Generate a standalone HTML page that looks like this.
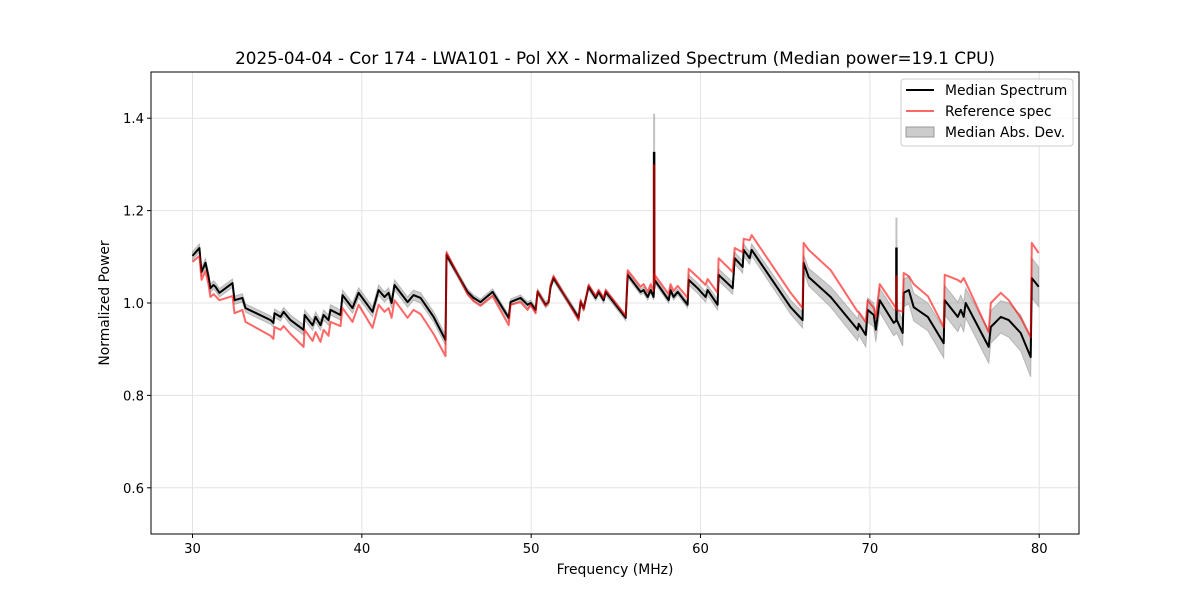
<!DOCTYPE html>
<html><head><meta charset="utf-8"><style>
body{margin:0;background:#fff;}
svg{display:block;font-family:"DejaVu Sans","Liberation Sans",sans-serif;}
</style></head><body>
<svg id="chart" width="1200" height="600" viewBox="0 0 1200 600">
<rect width="1200" height="600" fill="#fff"/>
<text x="615" y="64" text-anchor="middle" font-size="16.8" fill="#000">2025-04-04 - Cor 174 - LWA101 - Pol XX - Normalized Spectrum (Median power=19.1 CPU)</text>
<g id="grid"></g>
<g id="marks"></g>
<rect x="151" y="72" width="928" height="462" fill="none" stroke="#000" stroke-width="1"/>
<g id="ticks"></g>
<text x="615" y="574" text-anchor="middle" font-size="13.9">Frequency (MHz)</text>
<text x="109" y="303" text-anchor="middle" font-size="13.9" transform="rotate(-90 109 303)">Normalized Power</text>
<g>
<rect x="901" y="79" width="172" height="67" rx="3" fill="#fff" fill-opacity="0.8" stroke="#ccc"/>
<line x1="906" y1="90" x2="934" y2="90" stroke="#000" stroke-width="2"/>
<text x="945" y="95" font-size="13.9">Median Spectrum</text>
<line x1="906" y1="111" x2="934" y2="111" stroke="#ff0000" stroke-opacity="0.6" stroke-width="2"/>
<text x="945" y="116" font-size="13.9">Reference spec</text>
<rect x="906" y="127" width="28" height="10" fill="#999" fill-opacity="0.5" stroke="#999"/>
<text x="945" y="137" font-size="13.9">Median Abs. Dev.</text>
</g>
</svg>
<script>
const freqs=[30.00,30.41,30.53,30.77,30.95,31.06,31.24,31.36,31.59,32.36,32.48,32.95,33.13,34.61,34.78,34.84,35.20,35.38,35.79,36.56,36.62,37.09,37.27,37.56,37.74,38.03,38.15,38.74,38.86,39.45,39.81,40.63,40.99,41.34,41.58,41.76,41.93,42.70,43.05,43.47,44.24,44.94,45.00,46.24,46.60,47.01,47.72,48.67,48.78,49.37,49.79,49.97,50.26,50.38,50.85,51.03,51.15,51.32,52.80,52.92,53.10,53.39,53.81,53.98,54.28,54.40,55.58,55.70,56.46,56.64,56.88,57.06,57.23,57.29,58.12,58.23,58.41,58.65,59.24,59.30,59.83,60.30,60.42,61.01,61.07,61.90,62.02,62.49,62.55,62.90,63.02,65.32,66.03,66.09,66.39,67.69,69.28,69.34,69.76,69.87,70.23,70.35,70.58,71.41,71.59,71.94,72.00,72.30,72.59,73.42,74.36,74.42,75.19,75.37,75.54,75.66,77.02,77.14,77.73,78.20,78.91,79.50,79.56,79.97];
const medianSpec=[1.102,1.119,1.067,1.087,1.056,1.032,1.039,1.035,1.022,1.043,1.006,1.011,0.989,0.963,0.957,0.978,0.970,0.981,0.963,0.942,0.974,0.952,0.970,0.952,0.974,0.963,0.985,0.974,1.017,0.989,1.022,0.981,1.028,1.013,1.022,1.000,1.039,1.002,1.017,1.011,0.970,0.920,1.104,1.024,1.011,1.002,1.024,0.968,1.002,1.011,0.996,1.000,0.985,1.024,0.996,1.002,1.035,1.054,0.968,1.002,0.989,1.035,1.011,1.024,1.006,1.024,0.968,1.061,1.024,1.028,1.013,1.028,1.013,1.050,1.006,1.028,1.013,1.024,0.996,1.050,1.032,1.013,1.028,0.996,1.061,1.032,1.097,1.078,1.115,1.097,1.115,0.991,0.963,1.087,1.056,1.013,0.942,0.955,0.931,0.985,0.974,0.942,1.006,0.957,0.963,0.935,1.022,1.028,0.991,0.970,0.913,1.006,0.970,0.985,0.970,1.000,0.905,0.948,0.970,0.963,0.935,0.883,1.054,1.035];
const refSpec=[1.089,1.102,1.050,1.069,1.039,1.013,1.019,1.015,1.006,1.015,0.978,0.985,0.959,0.929,0.922,0.948,0.942,0.950,0.933,0.905,0.942,0.918,0.937,0.916,0.942,0.929,0.959,0.950,0.989,0.959,0.996,0.946,0.996,0.981,0.989,0.968,1.006,0.968,0.985,0.976,0.933,0.885,1.110,1.019,1.004,0.994,1.015,0.952,0.996,1.002,0.985,0.996,0.978,1.026,0.994,1.002,1.039,1.058,0.963,1.006,0.985,1.039,1.015,1.028,1.011,1.028,0.972,1.071,1.035,1.041,1.024,1.041,1.026,1.061,1.019,1.041,1.026,1.037,1.011,1.074,1.056,1.039,1.052,1.022,1.097,1.067,1.119,1.110,1.139,1.136,1.147,1.022,0.989,1.130,1.115,1.071,0.981,0.981,0.959,1.006,0.989,0.968,1.041,0.996,0.985,0.981,1.065,1.058,1.041,1.015,0.948,1.061,1.050,1.045,1.054,1.045,0.937,1.000,1.022,1.006,0.968,0.926,1.130,1.108];
const madDev=[.009,.009,.009,.009,.009,.009,.009,.009,.009,.009,.009,.009,.009,.009,.009,.009,.009,.009,.011,.011,.011,.011,.011,.011,.011,.011,.011,.011,.011,.011,.011,.011,.011,.011,.011,.011,.011,.011,.011,.011,.011,.011,.0065,.0065,.0065,.0065,.0065,.0065,.0065,.0065,.0065,.0065,.0065,.0065,.0065,.0065,.0065,.0065,.0065,.0065,.0065,.0065,.0065,.0065,.0065,.0065,.0065,.0065,.0065,.0065,.0065,.0065,.0065,.0065,.0065,.0065,.0065,.0065,.0065,.011,.011,.011,.011,.011,.013,.013,.013,.013,.013,.013,.013,.015,.017,.017,.019,.022,.024,.024,.026,.026,.026,.026,.026,.028,.028,.028,.030,.030,.030,.030,.032,.032,.032,.032,.032,.032,.035,.035,.035,.037,.039,.043,.043,.043];
const spikeFreqs=[57.26,71.57];
const spikeMedian=[1.327,1.120];
const spikeRef=[1.300,1.060];
const spikeMadTop=[1.410,1.185];
const xTicks=[30,40,50,60,70,80];
const yTicks=[0.6,0.8,1.0,1.2,1.4];
const yTickLabels=["0.6","0.8","1.0","1.2","1.4"];

const X0=151,X1=1079,Y0=534,Y1=72;
const xMin=27.55,xMax=82.35,yMin=0.5,yMax=1.5;
function sx(f){return X0+(f-xMin)/(xMax-xMin)*(X1-X0);}
function sy(v){return Y0-(v-yMin)/(yMax-yMin)*(Y0-Y1);}
const NS="http://www.w3.org/2000/svg";
function mk(tag,attrs,parent){const e=document.createElementNS(NS,tag);for(const k in attrs)e.setAttribute(k,attrs[k]);parent.appendChild(e);return e;}
const grid=document.getElementById('grid'),marks=document.getElementById('marks'),ticks=document.getElementById('ticks');
xTicks.forEach(t=>{
  const g=mk('line',{x1:sx(t),x2:sx(t),y1:Y1,y2:Y0,stroke:'#e3e3e3','stroke-width':1},grid);
  
  
  const tk=mk('line',{x1:sx(t),x2:sx(t),y1:Y0,y2:Y0+4,stroke:'#000'},ticks);
  
  
  const tl=mk('text',{x:sx(t),y:Y0+19,'text-anchor':'middle','font-size':'13.2'},ticks);
  tl.textContent=String(t);
  
  
});
yTicks.forEach((t,i)=>{
  const g=mk('line',{x1:X0,x2:X1,y1:sy(t),y2:sy(t),stroke:'#e3e3e3','stroke-width':1},grid);
  
  
  const tk=mk('line',{x1:X0-4,x2:X0,y1:sy(t),y2:sy(t),stroke:'#000'},ticks);
  
  
  const tl=mk('text',{x:X0-7,y:sy(t)+5,'text-anchor':'end','font-size':'13.2'},ticks);
  tl.textContent=yTickLabels[i];
  
  
});
let up=[],lo=[];
freqs.forEach((f,i)=>{up.push(sx(f).toFixed(1)+','+sy(medianSpec[i]+madDev[i]).toFixed(1));lo.push(sx(f).toFixed(1)+','+sy(medianSpec[i]-madDev[i]).toFixed(1));});
const band=mk('polygon',{points:up.concat(lo.reverse()).join(' '),fill:'#999','fill-opacity':0.5,stroke:'#999','stroke-opacity':0.6,'stroke-width':1},marks);


function interp(arr,f){for(let i=0;i<freqs.length-1;i++){if(f>=freqs[i]&&f<=freqs[i+1]){const t=(f-freqs[i])/(freqs[i+1]-freqs[i]);return arr[i]+t*(arr[i+1]-arr[i]);}}return arr[arr.length-1];}
spikeFreqs.forEach((f,i)=>{
  const s=mk('line',{x1:sx(f),x2:sx(f),y1:sy(interp(medianSpec,f)),y2:sy(spikeMadTop[i]),stroke:'#999','stroke-opacity':0.6,'stroke-width':2},marks);
  
  
});
const medLine=mk('polyline',{points:freqs.map((f,i)=>sx(f).toFixed(1)+','+sy(medianSpec[i]).toFixed(1)).join(' '),fill:'none',stroke:'#000','stroke-width':2,'stroke-linejoin':'round'},marks);


spikeFreqs.forEach((f,i)=>{
  const s=mk('line',{x1:sx(f),x2:sx(f),y1:sy(interp(medianSpec,f)),y2:sy(spikeMedian[i]),stroke:'#000','stroke-width':2.5},marks);
  
  
});
const refLine=mk('polyline',{points:freqs.map((f,i)=>sx(f).toFixed(1)+','+sy(refSpec[i]).toFixed(1)).join(' '),fill:'none',stroke:'#ff0000','stroke-opacity':0.6,'stroke-width':2,'stroke-linejoin':'round'},marks);


spikeFreqs.forEach((f,i)=>{
  const s=mk('line',{x1:sx(f),x2:sx(f),y1:sy(interp(refSpec,f)),y2:sy(spikeRef[i]),stroke:'#ff0000','stroke-opacity':0.6,'stroke-width':2.5},marks);
  
  
});
</script>
</body></html>
